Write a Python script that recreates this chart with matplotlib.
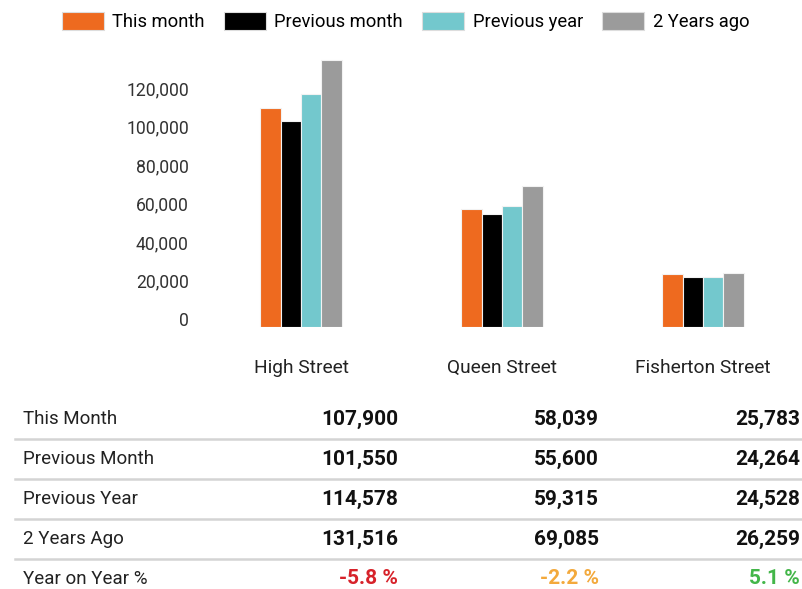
import matplotlib
matplotlib.use("Agg")
import matplotlib.pyplot as plt
from matplotlib.patches import Patch
import numpy as np

categories = ["High Street", "Queen Street", "Fisherton Street"]
series_names = ["This month", "Previous month", "Previous year", "2 Years ago"]
this_month = [107900, 58039, 25783]
previous_month = [101550, 55600, 24264]
previous_year = [114578, 59315, 24528]
two_years_ago = [131516, 69085, 26259]
row_labels = ["This Month", "Previous Month", "Previous Year", "2 Years Ago"]
yoy_labels = ["-5.8 %", "-2.2 %", "5.1 %"]
yoy_row_label = "Year on Year %"
y_ticks = [0, 20000, 40000, 60000, 80000, 100000, 120000]

colors = ["#EE6A1F", "#000000", "#73C8CD", "#9B9B9B"]
yoy_colors = ["#D7222A", "#F3A93C", "#43B649"]

plt.rcParams['font.family'] = ['Roboto', 'DejaVu Sans']
W, H = 803, 589
fig = plt.figure(figsize=(W / 100, H / 100), dpi=100)

def px_axes(left, top, right, bottom):
    return [left / W, 1 - bottom / H, (right - left) / W, (bottom - top) / H]

series = [this_month, previous_month, previous_year, two_years_ago]
ax = fig.add_axes(px_axes(200, 50, 803, 326.7))
x = np.arange(len(categories))
step = 0.101
handles = []
for i, (vals, c, name) in enumerate(zip(series, colors, series_names)):
    ax.bar(x + (i - 1.5) * step, vals, width=step, color=c,
           edgecolor="#f2f2f2", linewidth=0.8, label=name)
    handles.append(Patch(facecolor=c, edgecolor="#dddddd", linewidth=0.8, label=name))
ax.set_xlim(-0.5025, 2.4975)
ax.set_ylim(0, 136300)
ax.set_yticks([])
ax.set_xticks(x)
ax.set_xticklabels(categories, fontsize=13.8, color="#222222")
for t in ax.get_xticklabels():
    t.set_verticalalignment("baseline")
ax.tick_params(axis="x", length=0, pad=33)
for s in ax.spines.values():
    s.set_visible(False)

# tick label axis
lab = fig.add_axes(px_axes(200, 50, 803, 326.7))
lab.patch.set_visible(False)
lab.set_ylim(-4000, 139740)
lab.set_yticks(y_ticks)
lab.set_yticklabels([f"{v:,}" for v in y_ticks], fontsize=12.7, color="#333333")
lab.tick_params(axis="y", length=0, pad=8)
lab.set_xticks([])
for s in lab.spines.values():
    s.set_visible(False)

fig.legend(handles=handles, loc="upper center", bbox_to_anchor=(0.505, 1.0),
           ncol=4, frameon=False, fontsize=13.2, handlelength=2.3, handleheight=1.15,
           handletextpad=0.45, columnspacing=1.05, borderaxespad=0.25)

# table
tab = fig.add_axes([0, 0, 1, 1])
tab.set_xlim(0, W)
tab.set_ylim(H, 0)
tab.axis("off")
row_y = [419, 459, 499, 539]
col_right = [398, 599, 800]
for r, (lbl, vals) in enumerate(zip(row_labels, series)):
    tab.text(23, row_y[r], lbl, fontsize=13.5, va="center", ha="left", color="#222222")
    for c, v in enumerate(vals):
        tab.text(col_right[c], row_y[r], f"{v:,}", fontsize=15, fontweight="bold",
                 va="center", ha="right", color="#111111")
    tab.plot([15, 803], [row_y[r] + 20, row_y[r] + 20], color="#d4d4d4", lw=1.8)
tab.text(23, 579, yoy_row_label, fontsize=13.5, va="center", ha="left", color="#222222")
for c, (t, col) in enumerate(zip(yoy_labels, yoy_colors)):
    tab.text(col_right[c], 579, t, fontsize=15, fontweight="bold",
             va="center", ha="right", color=col)

fig.savefig("out.png", dpi=100)
